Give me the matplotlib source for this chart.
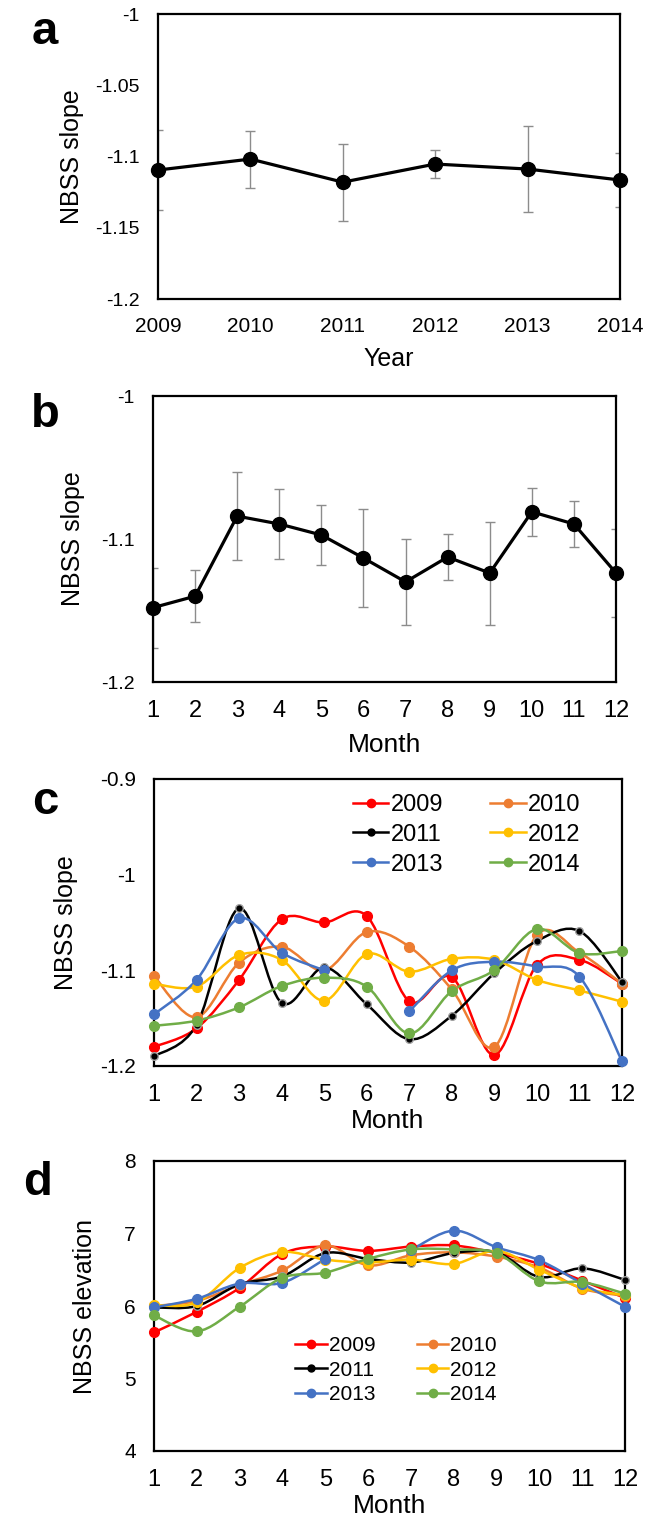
import numpy as np
import matplotlib
matplotlib.use("Agg")
import matplotlib.pyplot as plt
from matplotlib.path import Path
from matplotlib.patches import PathPatch
from matplotlib.lines import Line2D
from matplotlib.ticker import FuncFormatter

plt.rcParams['font.family'] = ['Liberation Sans', 'DejaVu Sans']

# Panel a: yearly mean slope
years = [2009, 2010, 2011, 2012, 2013, 2014]
year_slope = [-1.1095, -1.1018, -1.118, -1.1053, -1.1088, -1.1165]
year_err = [0.028, 0.020, 0.027, 0.010, 0.030, 0.019]

# Panel b: monthly mean slope
months = list(range(1, 13))
month_slope = [-1.148, -1.140, -1.084, -1.0895, -1.0972, -1.1133,
               -1.130, -1.1126, -1.1238, -1.081, -1.0895, -1.1238]
month_err = [0.028, 0.018, 0.031, 0.0245, 0.021, 0.034,
             0.030, 0.016, 0.036, 0.017, 0.016, 0.031]

# Panel c: monthly slope per year (nan = no data)
nan = np.nan
slope_2009 = [-1.180, -1.1606, -1.110, -1.0467, -1.050, -1.0432, -1.1324, -1.107, -1.1885, -1.0944, -1.089, -1.114]
slope_2010 = [-1.106, -1.149, -1.092, -1.0753, -1.100, -1.060, -1.0753, -1.120, -1.180, -1.063, -1.0815, -1.114]
slope_2011 = [-1.190, -1.157, -1.0352, -1.134, -1.097, -1.1355, -1.172, -1.1474, -1.103, -1.0693, -1.0589, -1.112]
slope_2012 = [-1.114, -1.117, -1.084, -1.089, -1.1317, -1.083, -1.1014, -1.088, -1.089, -1.110, -1.121, -1.1328]
slope_2013 = [-1.146, -1.110, -1.0456, -1.0815, -1.100, nan, -1.143, -1.100, -1.091, -1.096, -1.1066, -1.195]
slope_2014 = [-1.158, -1.1526, -1.1387, -1.1164, -1.1077, -1.117, -1.166, -1.1216, -1.0997, -1.0568, -1.082, -1.0798]

# Panel d: monthly elevation per year
elev_2009 = [5.635, 5.92, 6.25, 6.72, 6.82, 6.76, 6.82, 6.835, 6.73, 6.58, 6.35, 6.11]
elev_2010 = [6.00, 6.07, 6.29, 6.49, 6.835, 6.56, 6.70, 6.74, 6.68, 6.53, 6.24, 6.14]
elev_2011 = [5.98, 6.00, 6.30, 6.41, 6.73, 6.65, 6.60, 6.73, 6.74, 6.40, 6.52, 6.36]
elev_2012 = [6.01, 6.05, 6.525, 6.745, 6.64, 6.60, 6.64, 6.58, 6.76, 6.50, 6.25, 6.15]
elev_2013 = [5.98, 6.10, 6.31, 6.32, 6.65, nan, 6.77, 7.04, 6.81, 6.63, 6.31, 5.99]
elev_2014 = [5.87, 5.65, 5.99, 6.39, 6.46, 6.65, 6.78, 6.78, 6.73, 6.34, 6.33, 6.17]

labels = ['2009', '2010', '2011', '2012', '2013', '2014']
colors = ['#FF0000', '#ED7D31', '#000000', '#FFC000', '#4472C4', '#70AD47']
slope_series = [slope_2009, slope_2010, slope_2011, slope_2012, slope_2013, slope_2014]
elev_series = [elev_2009, elev_2010, elev_2011, elev_2012, elev_2013, elev_2014]

W, H = 647, 1525
fig = plt.figure(figsize=(W / 100, H / 100), dpi=100)


def add_axes(left, right, top, bottom):
    return fig.add_axes([left / W, 1 - bottom / H, (right - left) / W, (bottom - top) / H])


def style(ax, xfs, yfs):
    for s in ax.spines.values():
        s.set_linewidth(1.6)
    ax.tick_params(length=0)
    ax.tick_params(axis='x', labelsize=xfs, pad=13)
    ax.tick_params(axis='y', labelsize=yfs, pad=13)
    ax.yaxis.set_major_formatter(FuncFormatter(lambda v, p: '%g' % round(v, 4)))


def smooth_path(x, y):
    # Excel-like smoothed line through the points, split at gaps
    verts, codes = [], []
    seg = []
    segs = []
    for xi, yi in zip(x, y):
        if np.isnan(yi):
            if seg:
                segs.append(seg)
            seg = []
        else:
            seg.append(np.array([xi, yi], dtype=float))
    if seg:
        segs.append(seg)
    for seg in segs:
        n = len(seg)
        if n < 2:
            continue
        verts.append(seg[0]); codes.append(Path.MOVETO)
        for i in range(n - 1):
            p0 = seg[i - 1] if i > 0 else seg[i]
            p1, p2 = seg[i], seg[i + 1]
            p3 = seg[i + 2] if i + 2 < n else seg[i + 1]
            verts += [p1 + (p2 - p0) / 6, p2 - (p3 - p1) / 6, p2]
            codes += [Path.CURVE4] * 3
    return Path(verts, codes)


def panel_letter(y, letter, x=45):
    fig.text(x / W, 1 - y / H, letter, fontsize=34, fontweight='bold', ha='center', va='center')


# ---- a ----
ax = add_axes(158, 620, 14, 299)
ax.errorbar(years, year_slope, yerr=year_err, fmt='none', ecolor='#8C8C8C', elinewidth=1, capsize=3.5)
ax.plot(years, year_slope, '-o', color='black', lw=2.3, ms=10, clip_on=False, zorder=3)
ax.set_xlim(2009, 2014)
ax.set_ylim(-1.2, -1.0)
ax.set_yticks([-1.2, -1.15, -1.1, -1.05, -1.0])
ax.set_xticks(years)
style(ax, 15, 14)
ax.set_xlabel('Year', fontsize=18, labelpad=8)
ax.set_ylabel('NBSS slope', fontsize=18, labelpad=8)
panel_letter(32, 'a')

# ---- b ----
ax = add_axes(153, 616, 396, 682)
ax.errorbar(months, month_slope, yerr=month_err, fmt='none', ecolor='#8C8C8C', elinewidth=1, capsize=3.5)
ax.plot(months, month_slope, '-o', color='black', lw=2.3, ms=10, clip_on=False, zorder=3)
ax.set_xlim(1, 12)
ax.set_ylim(-1.2, -1.0)
ax.set_yticks([-1.2, -1.1, -1.0])
ax.set_xticks(months)
style(ax, 17, 14)
ax.set_xlabel('Month', fontsize=19, labelpad=8)
ax.set_ylabel('NBSS slope', fontsize=18, labelpad=12)
panel_letter(415, 'b')


def multi_panel(ax, series, fs_leg, anchor, spacing):
    handles = []
    for ys, c, lab in zip(series, colors, labels):
        ax.add_patch(PathPatch(smooth_path(months, ys), facecolor='none', edgecolor=c, lw=1.8,
                               clip_on=False, zorder=2))
        if c == '#000000':
            ax.plot(months, ys, 'o', color='black', mec='#A0A0A0', mew=1, ms=5.5, clip_on=False, zorder=3)
            handles.append(Line2D([], [], color='black', marker='o', ms=5, lw=1.8))
        else:
            ax.plot(months, ys, 'o', color=c, ms=7, clip_on=False, zorder=3)
            handles.append(Line2D([], [], color=c, marker='o', ms=6, lw=1.8))
    order = [0, 2, 4, 1, 3, 5]
    ax.legend([handles[i] for i in order], [labels[i] for i in order], ncol=2, frameon=False,
              loc='upper left', bbox_to_anchor=anchor, borderaxespad=0, borderpad=0,
              fontsize=fs_leg, handlelength=1.5, handletextpad=0.1, columnspacing=2.0,
              labelspacing=spacing)
    ax.set_xlim(1, 12)
    ax.set_xticks(months)


# ---- c ----
ax = add_axes(154, 622, 779, 1066)
multi_panel(ax, slope_series, 17, (0.425, 0.948), 0.33)
ax.set_ylim(-1.2, -0.9)
ax.set_yticks([-1.2, -1.1, -1.0, -0.9])
style(ax, 17, 15)
ax.set_xlabel('Month', fontsize=19, labelpad=2)
ax.set_ylabel('NBSS slope', fontsize=18, labelpad=16)
panel_letter(802, 'c')

# ---- d ----
ax = add_axes(154, 625, 1161, 1451)
multi_panel(ax, elev_series, 15, (0.30, 0.396), 0.27)
ax.set_ylim(4, 8)
ax.set_yticks([4, 5, 6, 7, 8])
style(ax, 17, 15)
ax.set_xlabel('Month', fontsize=19, labelpad=2)
ax.set_ylabel('NBSS elevation', fontsize=18, labelpad=20)
panel_letter(1183, 'd', x=38)

fig.savefig('out.png', dpi=100)
